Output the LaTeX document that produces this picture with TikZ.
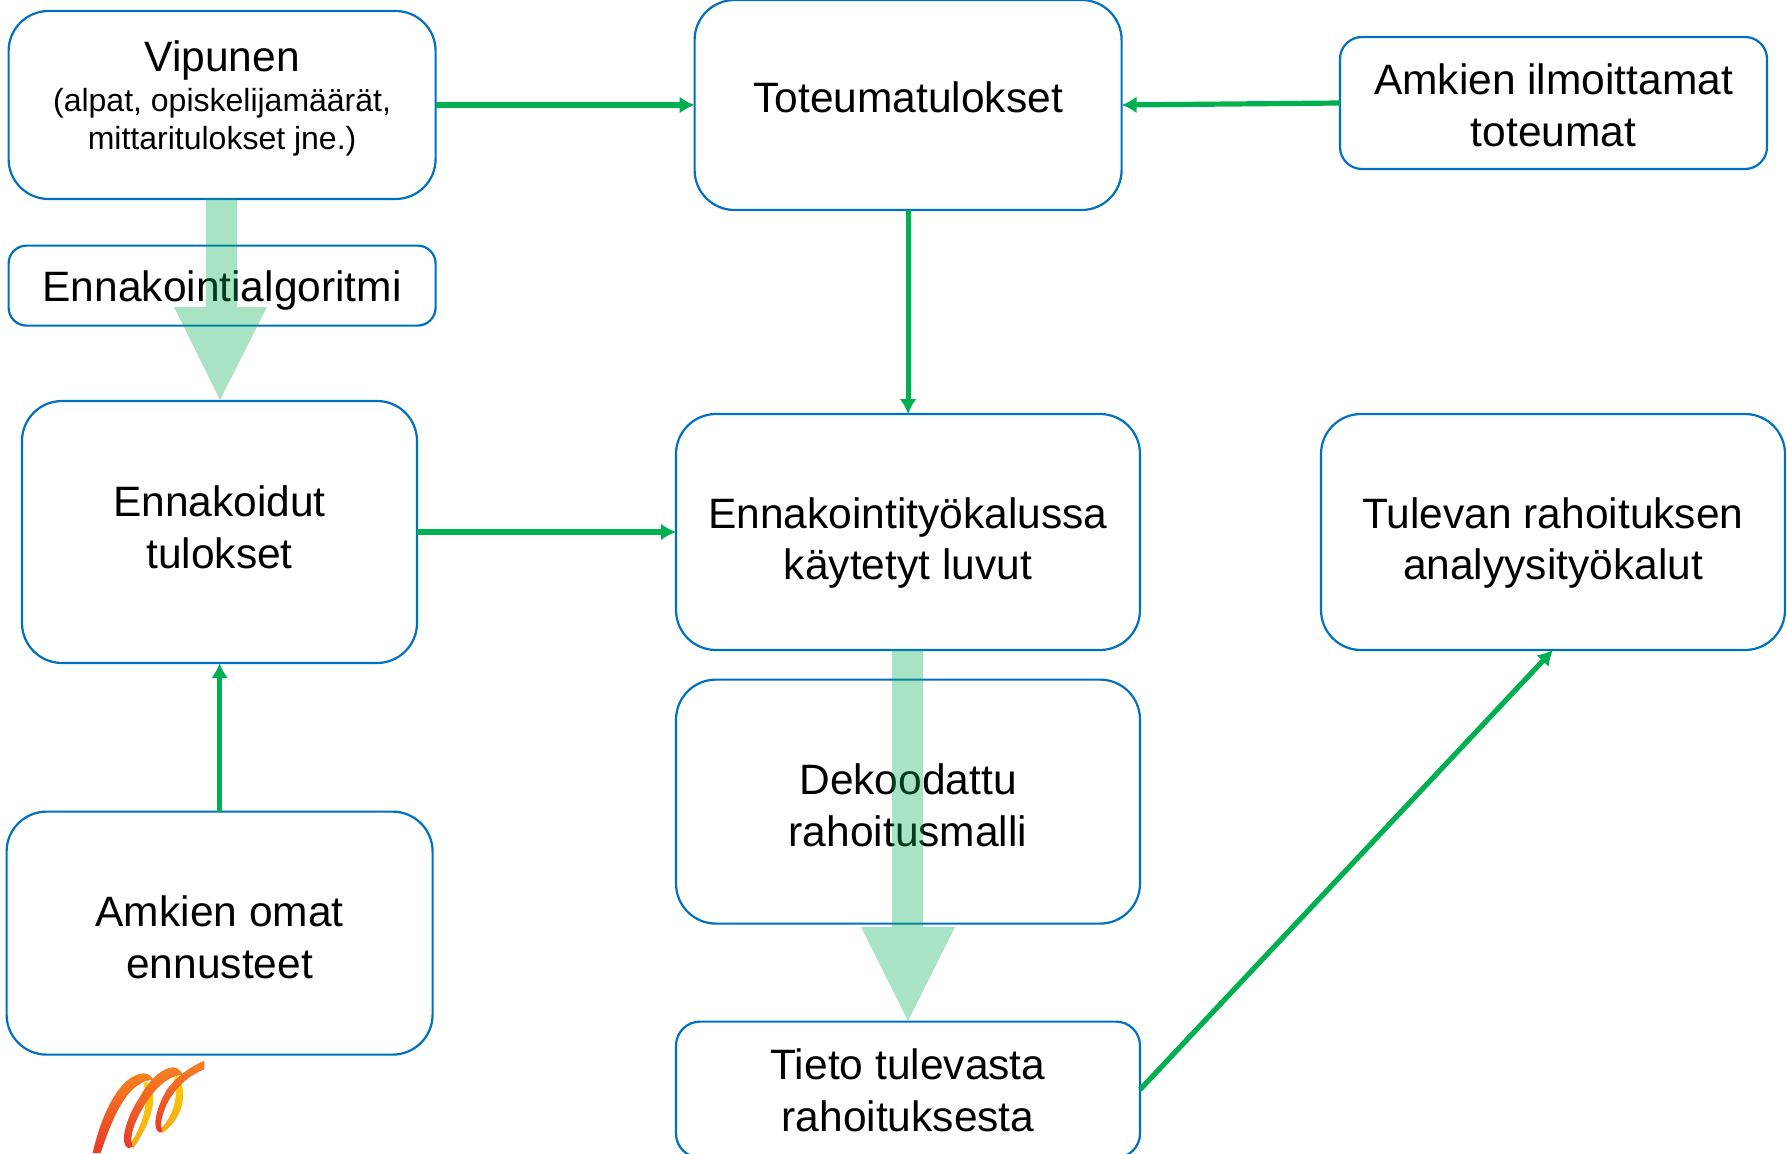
\documentclass[tikz,border=0pt]{standalone}
\usepackage{fontspec}
\setmainfont{Liberation Sans}
\usetikzlibrary{arrows.meta}
\definecolor{boxblue}{HTML}{0070C0}
\definecolor{flowgreen}{HTML}{00B050}
\definecolor{logoorange}{HTML}{F58220}
\definecolor{logored}{HTML}{E8392A}
\definecolor{logoyellow}{HTML}{FFD200}
\definecolor{logomid}{HTML}{F7A518}
\newcommand{\bigtxt}{\fontsize{42.5}{51.5}\selectfont}
\newcommand{\smalltxt}{\fontsize{32}{38}\selectfont}
\newcommand{\lines}[2]{\raisebox{#1}[0pt][0pt]{\begin{tabular}{@{}c@{}}#2\end{tabular}}}
\tikzset{
  x=1pt,y=-1pt,
  flowbox/.style={draw=boxblue,line width=2.2pt,rounded corners=#1,font=\bigtxt,text=black,inner sep=0pt,outer sep=0pt,anchor=north west},
  flowbox/.default=40pt,
  flow/.style={draw=flowgreen,line width=5.2pt,-{Latex[length=15pt,width=17pt]}},
  bigflow/.style={fill=flowgreen,fill opacity=0.34,draw=none},
  logolow/.style={top color=logoyellow,bottom color=logomid},
  logohigh/.style={top color=logoorange,bottom color=logored},
}
\begin{document}
\begin{tikzpicture}[line join=miter]
\useasboundingbox (0,0) rectangle (1787,1153);
\node[flowbox,minimum width=427pt,minimum height=188pt] (vip) at (8.6,11)
  {\lines{-1pt}{{\bigtxt Vipunen}\\[-11.5pt]{\smalltxt (alpat, opiskelijamäärät,}\\[-13.4pt]{\smalltxt mittaritulokset jne.)}}};
\node[flowbox,minimum width=427pt,minimum height=210pt] (tot) at (694.6,0)
  {\lines{-3pt}{Toteumatulokset}};
\node[flowbox=22pt,minimum width=427pt,minimum height=132pt] (aml) at (1340,37)
  {\lines{-13.2pt}{Amkien ilmoittamat\\toteumat}};
\node[flowbox=18pt,minimum width=427pt,minimum height=80pt] (alg) at (8.6,245.6)
  {\lines{-12pt}{Ennakointialgoritmi}};
\node[flowbox,minimum width=395pt,minimum height=262pt] (enk) at (22,401)
  {\lines{-6.3pt}{Ennakoidut\\tulokset}};
\node[flowbox,minimum width=464pt,minimum height=236pt] (tyo) at (676,414)
  {\lines{-17.8pt}{Ennakointityökalussa\\käytetyt luvut}};
\node[flowbox,minimum width=464pt,minimum height=236pt] (tul) at (1321,414)
  {\lines{-17.8pt}{Tulevan rahoituksen\\analyysityökalut}};
\node[flowbox,minimum width=464pt,minimum height=244pt] (dek) at (676,679.6)
  {\lines{-15pt}{Dekoodattu\\rahoitusmalli}};
\node[flowbox,minimum width=426pt,minimum height=243pt] (oma) at (6.6,811.6)
  {\lines{-15.5pt}{Amkien omat\\ennusteet}};
\node[flowbox=24pt,minimum width=464pt,minimum height=136pt] (tie) at (676,1021.6)
  {\lines{-12pt}{Tieto tulevasta\\rahoituksesta}};
% connectors
\draw[flow] (vip.east) -- (tot.west);
\draw[flow] (aml.west) -- (tot.east);
\draw[flow] (tot.south) -- (tyo.north -| tot.south);
\draw[flow] (enk.east) -- (enk.east -| tyo.west);
\draw[flow] (oma.north) -- (oma.north |- enk.south);
\draw[flow] (tie.east) -- (tul.south);
% wide translucent arrows
\path[bigflow] (206,199) -- (237,199) -- (237,307) -- (267,307) -- (220,400) -- (174,307) -- (206,307) -- cycle;
\path[bigflow] (892,650) -- (923,650) -- (923,927) -- (955,927) -- (908,1021) -- (861,927) -- (892,927) -- cycle;
% logo
\begin{scope}[shift={(0,1030)},x=0.3333pt,y=-0.3333pt]
\shade[logolow]
  (440,155) .. controls (472,175) and (472,250) .. (400,355) -- (392,340) .. controls (438,270) and (445,200) .. (430,160) -- cycle;
\shade[logolow]
  (530,135) .. controls (565,175) and (555,265) .. (485,310) -- (482,296) .. controls (525,255) and (535,190) .. (522,150) -- cycle;
\shade[logohigh]
  (278,369) .. controls (305,250) and (360,135) .. (430,130) .. controls (445,130) and (455,138) .. (460,150)
  .. controls (440,150) and (430,155) .. (420,162) .. controls (370,190) and (335,270) .. (302,369) -- cycle;
\shade[logohigh]
  (385,355) .. controls (355,340) and (380,260) .. (420,200) .. controls (450,145) and (490,112) .. (520,112)
  .. controls (535,112) and (545,125) .. (548,135) .. controls (510,135) and (470,170) .. (440,215) .. controls (405,270) and (385,320) .. (398,350) -- cycle;
\shade[logohigh]
  (480,308) .. controls (455,300) and (465,240) .. (500,180) .. controls (530,140) and (570,110) .. (613,92) -- (613,118)
  .. controls (570,135) and (535,165) .. (510,205) .. controls (485,250) and (478,285) .. (487,303) -- cycle;
\end{scope}
\end{tikzpicture}
\end{document}
